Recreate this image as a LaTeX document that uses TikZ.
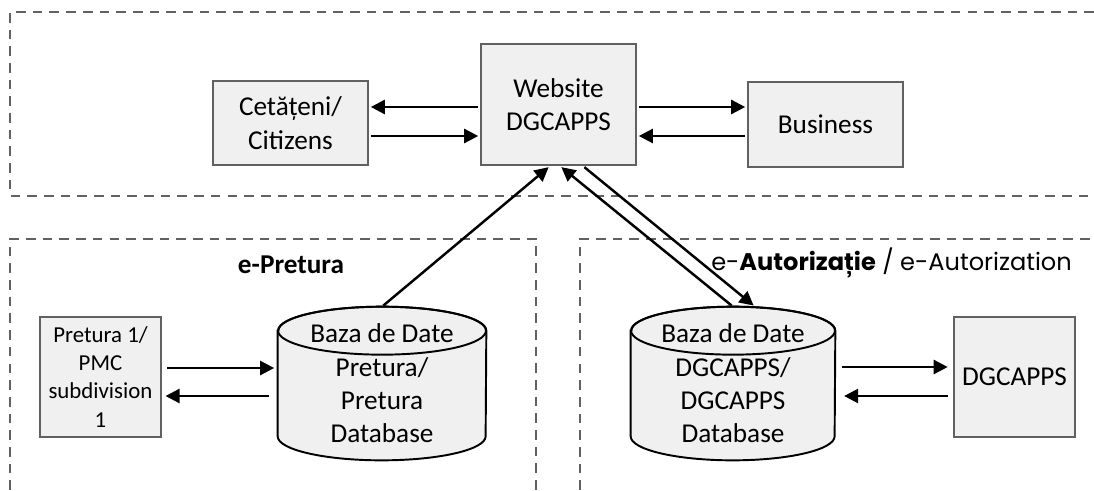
\documentclass[tikz,border=0pt]{standalone}
\usepackage{fontspec}
\setmainfont{Carlito}
\newfontfamily\gothic{Poppins}
\usetikzlibrary{backgrounds, shapes.geometric, arrows.meta, positioning, calc}
\tikzset{
  grp/.style = {draw=black!62, line width=1.3pt, dash pattern=on 5.5pt off 4pt},
  bx/.style = {draw=black!62, fill=black!6, line width=1.2pt, align=center,
    inner sep=0pt, font=\fontsize{15.5}{19}\selectfont},
  sbx/.style = {bx, font=\fontsize{13}{16}\selectfont},
  db/.style = {rectangle, align=center, inner sep=0pt,
    font=\fontsize{15.5}{19}\selectfont},
  dbl/.style = {draw=black, fill=black!6, line width=1.1pt},
  ttl/.style = {font=\fontsize{15.5}{19}\selectfont\bfseries},
  gttl/.style = {font=\gothic\fontsize{13.7}{15}\selectfont, anchor=east},
  arr/.style = {-{Triangle[length=8pt, width=8pt]}, line width=1.4pt,
    shorten >=1pt, shorten <=1pt}
}

\begin{document}
\begin{tikzpicture}[x=0.02cm, y=-0.02cm]
  \useasboundingbox (0,0) rectangle (1094,490);
  % dashed groups
  \draw [grp] (1094,12) -- (10,12) -- (10,196) -- (1094,196);
  \draw [grp] (10,490) -- (10,239) -- (536,239) -- (536,490);
  \draw [grp] (580,490) -- (580,239) -- (1094,239);

  % web portal
  \node [bx, minimum width=3.1cm, minimum height=2.42cm] (web) at (558.5,104.5) {Website\\DGCAPPS};
  \node [bx, minimum width=3.1cm, minimum height=1.68cm] (citz) at (290.5,123) {Cetățeni/\\Citizens};
  \node [bx, minimum width=3.1cm, minimum height=1.7cm] (bus) at (825.5,124.5) {Business};

  \draw [arr] (web.west |- 0,107) -- (citz.east |- 0,107);
  \draw [arr] (citz.east |- 0,136) -- (web.west |- 0,136);
  \draw [arr] (web.east |- 0,107) -- (bus.west |- 0,107);
  \draw [arr] (bus.west |- 0,136) -- (web.east |- 0,136);

  % e-Pretura
  \node [ttl] (ttlP) at (291,265) {e-Pretura};
  \node [sbx, minimum width=2.42cm, minimum height=2.4cm] (pmc) at (100.5,377) {Pretura 1/\\PMC\\subdivision\\1};
  \node [db, minimum width=4.16cm, minimum height=3.06cm] (dbp) at (382,383.5) {Baza de Date\\Pretura/\\Pretura\\Database};

  \draw [arr, shorten <=3pt, shorten >=2pt] (pmc.east |- 0,368) -- (dbp.west |- 0,368);
  \draw [arr, shorten <=5pt, shorten >=2pt] (dbp.west |- 0,396) -- (pmc.east |- 0,396);

  % e-Autorizatie
  \node [gttl] (ttlA) at (1078,263) {e-{\bfseries Autorizație} / e-Autorization};
  \node [db, minimum width=4.08cm, minimum height=3.06cm] (dbd) at (733,383.5) {Baza de Date\\DGCAPPS/\\DGCAPPS\\Database};
  \node [bx, minimum width=2.42cm, minimum height=2.4cm] (dgc) at (1014.5,377) {DGCAPPS};

  \draw [arr, shorten <=4pt, shorten >=3pt] (dbd.east |- 0,367) -- (dgc.west |- 0,367);
  \draw [arr, shorten <=3pt, shorten >=5pt] (dgc.west |- 0,396) -- (dbd.east |- 0,396);

  % cylinders behind the database texts
  \begin{scope}[on background layer]
    \foreach \n/\r in {dbp/2.08cm, dbd/2.04cm} {
      \path [dbl] ([yshift=-0.48cm]\n.north west) -- ([yshift=0.48cm]\n.south west)
        arc [start angle=180, end angle=360, x radius=\r, y radius=0.48cm]
        -- ([yshift=-0.48cm]\n.north east)
        arc [start angle=0, end angle=180, x radius=\r, y radius=0.48cm] -- cycle;
      \draw [dbl, fill=none] ([yshift=-0.48cm]\n.north) ellipse [x radius=\r, y radius=0.48cm];
    }
  \end{scope}

  % links to the portal
  \draw [arr] (dbp.north) -- (web.south -| 550,0);
  \draw [arr] (dbd.north) -- (web.south -| 560,0);
  \draw [arr] (web.south -| 583,0) -- (dbd.north -| 755,0);
\end{tikzpicture}
\end{document}
